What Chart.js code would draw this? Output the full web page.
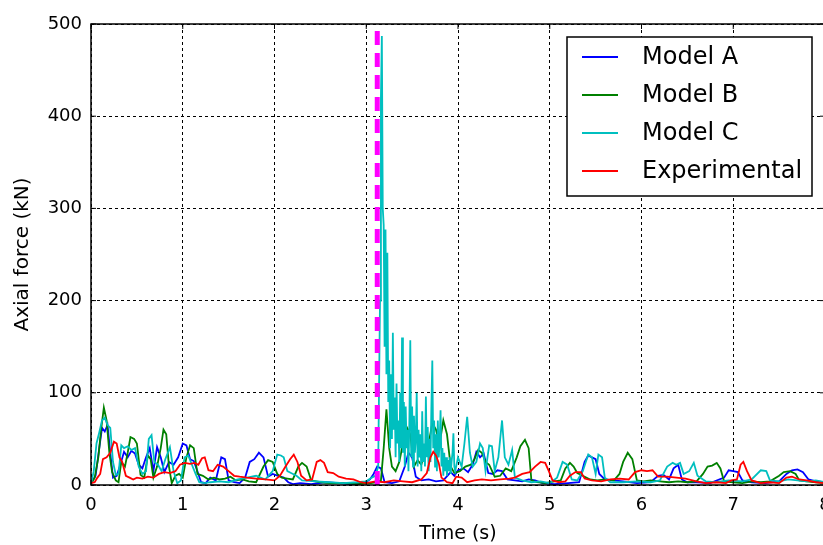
<!DOCTYPE html>
<html>
<head>
<meta charset="utf-8">
<script src="https://cdn.jsdelivr.net/npm/chart.js@4/dist/chart.umd.min.js"></script>
<style>
  html, body { margin: 0; padding: 0; overflow: hidden; background: #fff; }
  #wrap { width: 826px; height: 545px; }
</style>
</head>
<body>
<div id="wrap"><canvas id="chart" width="826" height="545"></canvas></div>
<script>
// time of impact (s)
const impactTime = 3.12;

const timeA = [0, 0.05, 0.09, 0.12, 0.15, 0.18, 0.21, 0.24, 0.28, 0.32, 0.36, 0.40, 0.44, 0.48, 0.52, 0.56, 0.60, 0.64, 0.68, 0.72, 0.76, 0.80, 0.85, 0.90, 0.95, 1.00, 1.04, 1.08, 1.12, 1.16, 1.20, 1.25, 1.30, 1.36, 1.42, 1.46, 1.50, 1.56, 1.62, 1.68, 1.73, 1.78, 1.83, 1.88, 1.93, 1.98, 2.04, 2.10, 2.15, 2.20, 2.28, 2.40, 2.55, 2.70, 2.85, 2.98, 3.04, 3.08, 3.12, 3.16, 3.20, 3.28, 3.36, 3.42, 3.46, 3.50, 3.54, 3.60, 3.68, 3.76, 3.84, 3.92, 3.96, 4.00, 4.06, 4.11, 4.16, 4.20, 4.24, 4.28, 4.33, 4.38, 4.43, 4.48, 4.54, 4.62, 4.70, 4.77, 4.84, 4.92, 5.05, 5.20, 5.32, 5.38, 5.42, 5.46, 5.50, 5.54, 5.60, 5.70, 5.80, 5.95, 6.10, 6.18, 6.24, 6.30, 6.35, 6.40, 6.44, 6.50, 6.60, 6.75, 6.90, 6.95, 7.00, 7.05, 7.10, 7.20, 7.35, 7.50, 7.58, 7.64, 7.70, 7.76, 7.82, 7.90, 8.00];
const forceA = [2, 10, 40, 62, 58, 65, 35, 8, 10, 22, 36, 30, 37, 34, 22, 18, 30, 40, 15, 41, 30, 14, 25, 22, 30, 45, 43, 28, 26, 15, 3, 2, 8, 5, 30, 28, 5, 3, 2, 8, 25, 28, 35, 30, 9, 12, 10, 8, 3, 1, 2, 1, 3, 2, 1, 2, 6, 12, 20, 18, 3, 2, 4, 20, 35, 30, 9, 5, 6, 4, 5, 14, 10, 16, 18, 14, 22, 36, 30, 34, 13, 12, 16, 15, 6, 5, 4, 6, 5, 2, 1, 2, 3, 25, 32, 30, 28, 12, 6, 5, 4, 2, 3, 10, 11, 6, 18, 22, 6, 3, 3, 2, 8, 16, 15, 14, 5, 3, 2, 4, 12, 16, 17, 14, 6, 4, 3];

const timeB = [0, 0.04, 0.08, 0.11, 0.14, 0.17, 0.20, 0.23, 0.27, 0.30, 0.33, 0.37, 0.40, 0.43, 0.47, 0.50, 0.54, 0.58, 0.62, 0.65, 0.68, 0.72, 0.76, 0.79, 0.82, 0.85, 0.88, 0.92, 0.96, 1.00, 1.04, 1.08, 1.12, 1.16, 1.22, 1.28, 1.34, 1.40, 1.46, 1.52, 1.58, 1.65, 1.72, 1.80, 1.88, 1.93, 1.98, 2.03, 2.08, 2.14, 2.20, 2.26, 2.30, 2.35, 2.40, 2.50, 2.60, 2.75, 2.90, 3.05, 3.12, 3.16, 3.19, 3.22, 3.25, 3.28, 3.32, 3.36, 3.40, 3.44, 3.48, 3.52, 3.56, 3.60, 3.64, 3.68, 3.72, 3.76, 3.80, 3.84, 3.88, 3.92, 3.96, 4.02, 4.08, 4.14, 4.18, 4.22, 4.26, 4.30, 4.34, 4.40, 4.46, 4.52, 4.58, 4.64, 4.68, 4.73, 4.77, 4.80, 4.86, 4.95, 5.05, 5.12, 5.17, 5.22, 5.26, 5.30, 5.36, 5.44, 5.52, 5.60, 5.70, 5.76, 5.80, 5.85, 5.90, 5.95, 6.02, 6.10, 6.20, 6.30, 6.40, 6.50, 6.60, 6.67, 6.72, 6.77, 6.82, 6.86, 6.90, 7.00, 7.10, 7.20, 7.30, 7.40, 7.50, 7.55, 7.62, 7.68, 7.72, 7.80, 7.90, 8.00];
const forceB = [1, 8, 30, 60, 84, 70, 35, 14, 5, 3, 25, 20, 35, 52, 50, 45, 11, 8, 32, 28, 8, 20, 40, 60, 55, 20, 2, 10, 12, 8, 30, 43, 40, 12, 10, 6, 8, 6, 7, 9, 5, 6, 4, 3, 20, 27, 25, 12, 8, 7, 6, 20, 24, 20, 5, 3, 2, 2, 1, 2, 3, 5, 40, 82, 40, 20, 15, 25, 45, 63, 55, 20, 27, 22, 35, 45, 67, 60, 45, 70, 55, 20, 13, 15, 20, 22, 28, 38, 35, 25, 22, 9, 10, 18, 15, 30, 42, 49, 40, 5, 3, 2, 4, 5, 18, 24, 20, 13, 10, 6, 5, 6, 5, 12, 25, 35, 28, 5, 4, 5, 4, 3, 4, 3, 4, 12, 20, 21, 24, 18, 4, 3, 2, 4, 3, 4, 10, 14, 15, 12, 5, 4, 3, 2];

const timeC = [0, 0.03, 0.06, 0.09, 0.12, 0.15, 0.18, 0.21, 0.24, 0.27, 0.30, 0.33, 0.36, 0.40, 0.44, 0.48, 0.52, 0.56, 0.60, 0.63, 0.66, 0.69, 0.73, 0.77, 0.81, 0.86, 0.90, 0.94, 0.98, 1.02, 1.06, 1.10, 1.14, 1.18, 1.24, 1.30, 1.40, 1.50, 1.60, 1.70, 1.80, 1.90, 1.98, 2.03, 2.07, 2.10, 2.14, 2.18, 2.24, 2.30, 2.45, 2.60, 2.75, 2.90, 3.00, 3.06, 3.10, 3.13,
    3.15, 3.16, 3.17, 3.18, 3.19, 3.20, 3.21, 3.22, 3.23, 3.24, 3.25, 3.26, 3.27, 3.28, 3.29, 3.30, 3.31, 3.32, 3.33, 3.34, 3.35, 3.36, 3.37, 3.38, 3.39, 3.40, 3.41, 3.42, 3.43, 3.44, 3.45, 3.46, 3.47, 3.48, 3.49, 3.50, 3.51, 3.52, 3.53, 3.54, 3.55, 3.56, 3.57, 3.58, 3.59, 3.60, 3.61, 3.62, 3.63, 3.64, 3.65, 3.66, 3.67, 3.68, 3.69, 3.70, 3.71, 3.72, 3.73, 3.74, 3.75, 3.76, 3.77, 3.78, 3.79, 3.80, 3.81, 3.82, 3.83, 3.84, 3.85, 3.86, 3.87, 3.88, 3.89, 3.90, 3.91, 3.92, 3.93, 3.94, 3.95, 3.96, 3.97,
    4.00, 4.04, 4.07, 4.10, 4.13, 4.16, 4.20, 4.24, 4.27, 4.30, 4.34, 4.37, 4.40, 4.44, 4.48, 4.51, 4.55, 4.59, 4.62, 4.70, 4.80, 4.90, 5.00, 5.08, 5.14, 5.19, 5.24, 5.30, 5.36, 5.42, 5.46, 5.50, 5.53, 5.57, 5.60, 5.66, 5.80, 5.95, 6.10, 6.20, 6.28, 6.34, 6.38, 6.42, 6.46, 6.52, 6.57, 6.61, 6.70, 6.80, 6.95, 7.10, 7.20, 7.30, 7.36, 7.40, 7.50, 7.60, 7.70, 7.80, 7.90, 8.00];
const forceC = [1, 15, 45, 57, 70, 73, 65, 62, 25, 11, 12, 43, 40, 42, 38, 40, 20, 12, 15, 50, 54, 25, 22, 15, 28, 41, 15, 2, 5, 30, 32, 22, 12, 3, 2, 3, 4, 3, 6, 8, 10, 6, 15, 33, 32, 30, 15, 13, 10, 5, 4, 3, 2, 3, 4, 8, 10, 20,
    200, 420, 487, 300, 282, 150, 277, 120, 252, 90, 135, 40, 120, 50, 165, 60, 95, 30, 110, 45, 70, 25, 100, 40, 160, 35, 90, 20, 85, 40, 60, 15, 70, 157, 30, 85, 20, 75, 35, 50, 100, 20, 60, 30, 55, 15, 80, 25, 45, 20, 96, 30, 63, 15, 50, 25, 85, 135, 40, 70, 20, 55, 15, 70, 30, 45, 81, 20, 40, 10, 35, 15, 30, 10, 27, 15, 30, 12, 25, 35, 56, 20, 15,
    30, 20, 45, 74, 35, 20, 25, 45, 40, 15, 43, 42, 15, 30, 70, 30, 22, 38, 8, 5, 3, 4, 2, 8, 25, 22, 6, 5, 15, 33, 30, 12, 33, 30, 8, 3, 3, 4, 3, 5, 20, 24, 22, 24, 12, 15, 24, 10, 4, 3, 5, 4, 6, 16, 15, 5, 4, 6, 5, 4, 5, 3];

const timeExp = [0, 0.04, 0.07, 0.10, 0.13, 0.17, 0.21, 0.25, 0.28, 0.31, 0.34, 0.38, 0.42, 0.46, 0.50, 0.56, 0.62, 0.68, 0.74, 0.80, 0.86, 0.92, 0.97, 1.02, 1.08, 1.13, 1.17, 1.21, 1.24, 1.28, 1.33, 1.38, 1.44, 1.50, 1.56, 1.62, 1.70, 1.80, 1.90, 2.00, 2.06, 2.12, 2.17, 2.21, 2.25, 2.29, 2.35, 2.41, 2.46, 2.50, 2.54, 2.58, 2.64, 2.70, 2.78, 2.86, 2.94, 3.00, 3.10, 3.20, 3.30, 3.40, 3.50, 3.60, 3.66, 3.70, 3.73, 3.76, 3.79, 3.82, 3.88, 3.94, 3.98, 4.04, 4.10, 4.18, 4.26, 4.36, 4.46, 4.56, 4.62, 4.70, 4.78, 4.84, 4.90, 4.95, 4.99, 5.03, 5.10, 5.17, 5.22, 5.28, 5.34, 5.38, 5.46, 5.56, 5.66, 5.76, 5.86, 5.93, 6.00, 6.06, 6.12, 6.18, 6.28, 6.38, 6.48, 6.60, 6.70, 6.82, 6.92, 6.98, 7.04, 7.08, 7.11, 7.15, 7.20, 7.30, 7.40, 7.50, 7.58, 7.64, 7.72, 7.80, 7.90, 8.00];
const forceExp = [2, 3, 8, 12, 28, 30, 35, 47, 45, 30, 25, 10, 8, 6, 8, 7, 9, 8, 12, 14, 13, 15, 22, 24, 23, 24, 22, 29, 30, 16, 15, 22, 20, 15, 10, 9, 8, 7, 6, 5, 10, 20, 28, 33, 25, 10, 5, 6, 25, 27, 24, 14, 13, 9, 7, 6, 3, 2, 4, 3, 5, 4, 3, 6, 13, 30, 36, 32, 24, 8, 3, 2, 9, 8, 3, 5, 6, 5, 6, 7, 8, 12, 14, 20, 25, 24, 15, 5, 3, 4, 10, 14, 14, 7, 5, 4, 6, 7, 6, 14, 16, 15, 16, 9, 9, 8, 7, 4, 2, 3, 2, 5, 6, 22, 25, 15, 5, 2, 3, 2, 8, 9, 6, 5, 3, 2];

const seriesNames = ['Model A', 'Model B', 'Model C', 'Experimental'];
const seriesColors = ['#0000ff', '#008000', '#00bfbf', '#ff0000'];

const yTicks = [0, 100, 200, 300, 400, 500];
const xTicks = [0, 1, 2, 3, 4, 5, 6, 7, 8];

const font = 'DejaVu Sans';

function toPoints(times, values) {
    return times.map((t, i) => ({ x: t, y: values[i] }));
}

const allTimes = [timeA, timeB, timeC, timeExp];
const allForces = [forceA, forceB, forceC, forceExp];

const datasets = seriesNames.map((name, i) => ({
    label: name,
    data: toPoints(allTimes[i], allForces[i]),
    borderColor: seriesColors[i],
    borderWidth: 1.8,
    pointRadius: 0,
    fill: false,
    tension: 0,
    order: 6 - i
}));
datasets.push({
    label: 'impact',
    data: [{ x: impactTime, y: 0 }, { x: impactTime, y: 500 }],
    borderColor: '#ff00ff',
    borderWidth: 5,
    borderDash: [14, 8],
    pointRadius: 0,
    fill: false,
    order: 1
});

// frame, inward ticks and legend box like the original figure
const framePlugin = {
    id: 'frame',
    afterDatasetsDraw(chart) {
        const ctx = chart.ctx;
        const a = chart.chartArea;
        const xs = chart.scales.x, ys = chart.scales.y;
        ctx.save();
        ctx.strokeStyle = '#000';
        ctx.lineWidth = 1.5;
        ctx.setLineDash([]);
        ctx.strokeRect(a.left, a.top, a.right - a.left, a.bottom - a.top);
        ctx.lineWidth = 1;
        ctx.beginPath();
        xTicks.forEach(v => {
            const px = xs.getPixelForValue(v);
            ctx.moveTo(px, a.bottom); ctx.lineTo(px, a.bottom - 5);
            ctx.moveTo(px, a.top); ctx.lineTo(px, a.top + 5);
        });
        yTicks.forEach(v => {
            const py = ys.getPixelForValue(v);
            ctx.moveTo(a.left, py); ctx.lineTo(a.left + 5, py);
            ctx.moveTo(a.right, py); ctx.lineTo(a.right - 5, py);
        });
        ctx.stroke();
        ctx.restore();
    },
    afterDraw(chart) {
        const ctx = chart.ctx;
        const box = { left: 567, top: 37, width: 245, height: 159 };
        ctx.save();
        ctx.fillStyle = '#fff';
        ctx.fillRect(box.left, box.top, box.width, box.height);
        ctx.strokeStyle = '#000';
        ctx.lineWidth = 1.5;
        ctx.strokeRect(box.left, box.top, box.width, box.height);
        ctx.font = '24px "' + font + '"';
        ctx.textBaseline = 'middle';
        ctx.fillStyle = '#000';
        seriesNames.forEach((name, i) => {
            const y = box.top + 20 + i * 38;
            ctx.strokeStyle = seriesColors[i];
            ctx.lineWidth = 1.8;
            ctx.beginPath();
            ctx.moveTo(582, y); ctx.lineTo(618, y);
            ctx.stroke();
            ctx.fillText(name, 642, y + 1);
        });
        ctx.restore();
    }
};

new Chart(document.getElementById('chart'), {
    type: 'line',
    data: { datasets: datasets },
    options: {
        responsive: false,
        animation: false,
        layout: { padding: { left: 0, top: 24, right: 1, bottom: 0 } },
        plugins: { legend: { display: false }, tooltip: { enabled: false } },
        scales: {
            x: {
                type: 'linear',
                min: 0,
                max: 8,
                afterBuildTicks: (scale) => { scale.ticks = xTicks.map(v => ({ value: v })); },
                afterFit: (scale) => { scale.height = 60; scale.paddingLeft = 0; scale.paddingRight = 0; },
                ticks: { padding: 10, maxRotation: 0, color: '#000', font: { family: font, size: 18 } },
                grid: { color: '#000', lineWidth: 1, drawTicks: false },
                border: { display: false, dash: [3, 3] },
                title: { display: true, text: 'Time (s)', color: '#000', font: { family: font, size: 19 }, padding: { top: 0, bottom: 0 } }
            },
            y: {
                min: 0,
                max: 500,
                afterBuildTicks: (scale) => { scale.ticks = yTicks.map(v => ({ value: v })); },
                afterFit: (scale) => { scale.width = 91; scale.paddingTop = 0; scale.paddingBottom = 0; },
                ticks: { padding: 9, color: '#000', font: { family: font, size: 18 } },
                grid: { color: '#000', lineWidth: 1, drawTicks: false },
                border: { display: false, dash: [3, 3] },
                title: { display: true, text: 'Axial force (kN)', color: '#000', font: { family: font, size: 20 }, padding: { top: 11, bottom: 0 } }
            }
        }
    },
    plugins: [framePlugin]
});
</script>
</body>
</html>
